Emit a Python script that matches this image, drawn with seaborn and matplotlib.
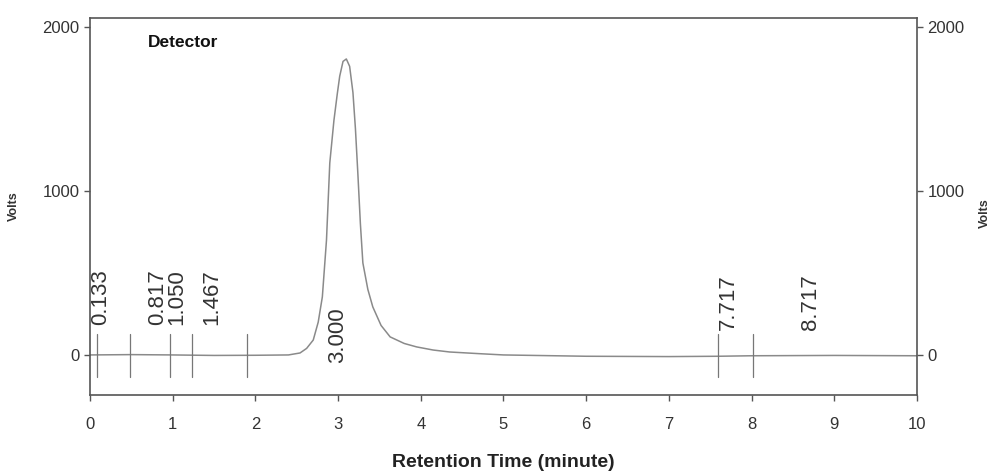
import seaborn as sns
import pandas as pd
from matplotlib import pyplot as plt

# chromatogram trace (minutes, volts)
time_min = [0.0, 0.5, 1.0, 1.5, 2.0, 2.4, 2.54, 2.62, 2.70, 2.76, 2.81, 2.86, 2.90, 2.95,
            2.99, 3.02, 3.06, 3.10, 3.14, 3.18, 3.21, 3.24, 3.27, 3.30, 3.36, 3.42, 3.52,
            3.63, 3.80, 3.95, 4.15, 4.35, 4.70, 5.00, 6.00, 7.00, 7.60, 8.00, 9.00, 10.00]
volts = [0, 2, 0, -3, -2, 0, 12, 40, 91, 200, 354, 700, 1171, 1430,
         1590, 1700, 1790, 1805, 1760, 1600, 1380, 1100, 800, 561, 400, 293, 180,
         110, 70, 49, 30, 18, 8, 0, -8, -10, -8, -5, -3, -5]

# peak start/end marks on the baseline
marks = [0.08, 0.48, 0.97, 1.23, 1.90, 7.60, 8.02]

# retention time labels
peak_rt = [0.133, 0.817, 1.050, 1.467, 3.000, 7.717, 8.717]
label_y = [185, 185, 185, 185, -50, 155, 155]

sns.set_theme(style="ticks")
plt.rcParams['font.family'] = ['Liberation Sans', 'DejaVu Sans']

df = pd.DataFrame({"time": time_min, "volts": volts})

fig = plt.figure(figsize=(9.94, 4.73), dpi=100)
ax = fig.add_axes([0.0905, 0.165, 0.832, 0.797])

sns.lineplot(x="time", y="volts", data=df, ax=ax, color="#8a8a8a", linewidth=1.1)

for m in marks:
    ax.plot([m, m], [-135, 130], color="#777777", linewidth=0.9)

for rt, yy in zip(peak_rt, label_y):
    ax.text(rt, yy, f"{rt:.3f}", rotation=90, ha="center", va="bottom",
            fontsize=16, color="#333333")

ax.set_xlim(0, 10)
ax.set_ylim(-244, 2055)
ax.set_xticks(range(0, 11))
ax.set_yticks([0, 1000, 2000])
ax.tick_params(axis="both", direction="out", length=4, width=1, colors="#555555",
               labelcolor="#333333", labelsize=12, right=True, labelright=True)
ax.tick_params(axis="x", pad=12)
for s in ax.spines.values():
    s.set_color("#555555")
    s.set_linewidth(1.2)

ax.set_xlabel("Retention Time (minute)", fontsize=14, fontweight="bold", color="#222222",
              labelpad=16)
ax.set_ylabel("Volts", fontsize=9, fontweight="bold", color="#333333")
ax.yaxis.set_label_coords(-0.085, 0.5)
fig.text(0.985, 0.55, "Volts", rotation=90, fontsize=9, fontweight="bold",
         color="#333333", ha="left", va="center")
ax.text(0.07, 0.955, "Detector", transform=ax.transAxes, fontsize=12.5,
        fontweight="bold", color="#111111", va="top")

fig.savefig("out.png", dpi=100)
